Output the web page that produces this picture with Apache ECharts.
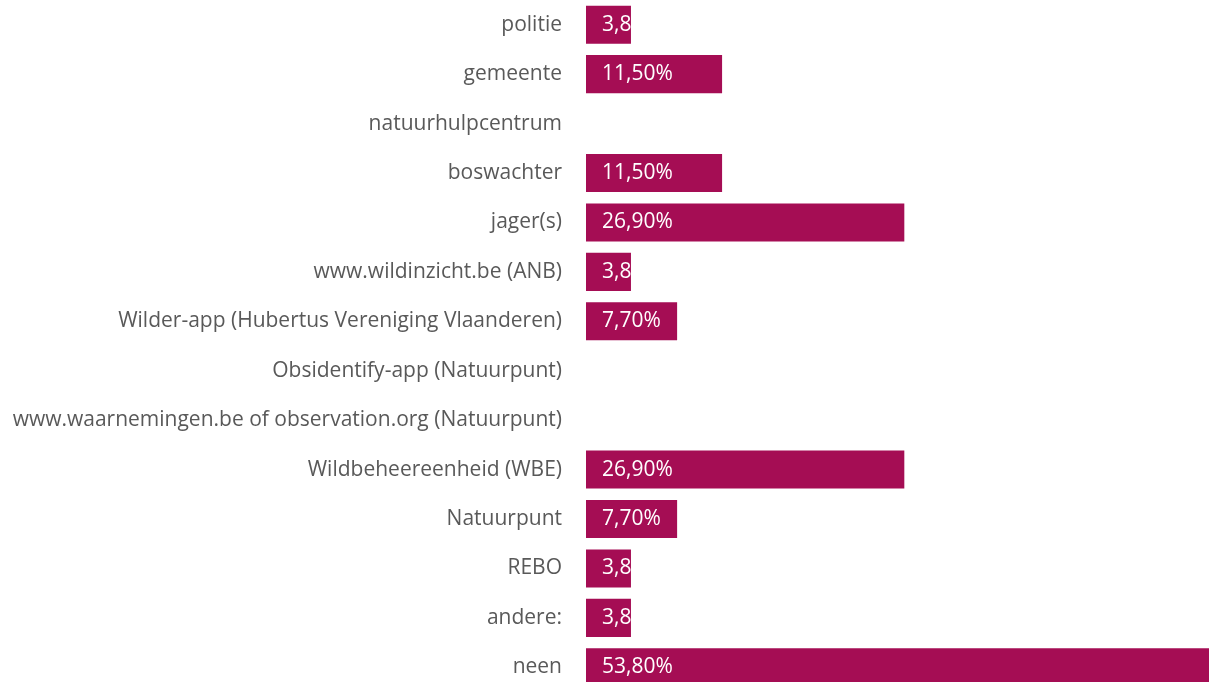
<!doctype html>
<html>
<head>
    <meta charset="utf-8">
    <title>meldingen</title>
    <style>
        html, body { margin: 0; padding: 0; background: #fff; }
        #main { width: 1209px; height: 682px; }
    </style>
</head>
<body>
    <div id="main"></div>
</body>
<script src="https://cdn.jsdelivr.net/npm/echarts@6/dist/echarts.min.js"></script>
<script type="text/javascript">
    // categorieen van boven naar onder
    var categories = [
        'politie',
        'gemeente',
        'natuurhulpcentrum',
        'boswachter',
        'jager(s)',
        'www.wildinzicht.be (ANB)',
        'Wilder-app (Hubertus Vereniging Vlaanderen)',
        'Obsidentify-app (Natuurpunt)',
        'www.waarnemingen.be of observation.org (Natuurpunt)',
        'Wildbeheereenheid (WBE)',
        'Natuurpunt',
        'REBO',
        'andere:',
        'neen'
    ];
    // percentages, 0 = geen balk
    var values = [3.8, 11.5, 0, 11.5, 26.9, 3.8, 7.7, 0, 0, 26.9, 7.7, 3.8, 3.8, 53.8];

    var myChart = echarts.init(document.getElementById('main'));
    var option = {
        animation: false,
        grid: {
            left: 586,
            top: 0,
            width: 710,
            height: 692,
            containLabel: false,
            outerBoundsMode: 'none'
        },
        xAxis: {
            type: 'value',
            min: 0,
            max: 60,
            show: false
        },
        yAxis: {
            type: 'category',
            data: categories,
            inverse: true,
            axisLine: { show: false },
            axisTick: { show: false },
            axisLabel: {
                margin: 24,
                color: '#595959',
                fontFamily: 'Open Sans',
                fontSize: 21,
                padding: [4, 0, 0, 0]
            }
        },
        series: [{
            type: 'bar',
            data: values.map(function (v) { return v === 0 ? null : v; }),
            barCategoryGap: '23%',
            clip: false,
            itemStyle: { color: '#A50D54' },
            label: {
                show: true,
                position: 'insideLeft',
                distance: 16,
                color: '#fff',
                fontFamily: 'Open Sans',
                fontSize: 21,
                formatter: function (p) {
                    return p.value.toFixed(2).replace('.', ',') + '%';
                }
            }
        }]
    };
    myChart.setOption(option);
</script>
</html>
